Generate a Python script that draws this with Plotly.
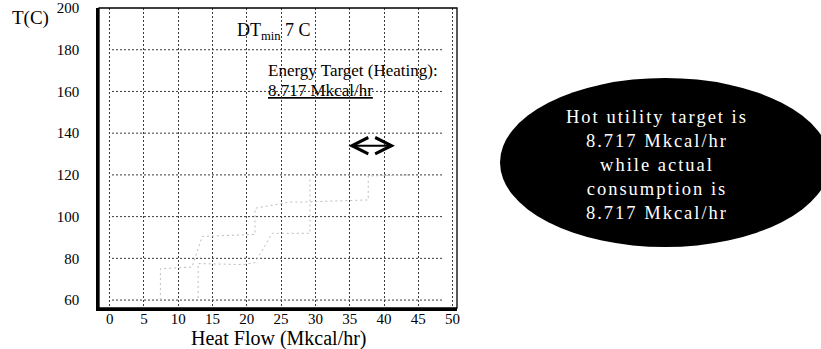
import plotly.graph_objects as go

# ---------------- data ----------------
x_ticks = [0, 5, 10, 15, 20, 25, 30, 35, 40, 45, 50]
y_ticks = [60, 80, 100, 120, 140, 160, 180, 200]
y_grid = [60, 80, 100, 120, 140, 160, 180]

# faint composite curves (heat flow Mkcal/hr, temperature C)
curveA_H = [7.4, 7.4, 12.0, 13.5, 17.5, 21.2, 21.2, 26.3, 28.2, 35.5, 37.7, 37.7, 43.8]
curveA_T = [60, 75, 75.8, 90.5, 91, 91.5, 104, 107, 107, 107.5, 108, 119.5, 120]
curveB_H = [12.9, 12.9, 19.5, 21.2, 23.7, 29.2, 29.2]
curveB_T = [61, 77.5, 77, 78, 92, 92, 119]

arrow_H = [34.6, 41.6]
arrow_T = 134

x_title = "Heat Flow (Mkcal/hr)"
y_title = "T(C)"
dtmin_label = "DT<sub>min</sub> 7 C"
target_label = "Energy Target (Heating):"
target_value = "8.717 Mkcal/hr"
bubble_lines = ["Hot utility target is", "8.717 Mkcal/hr", "while actual",
                "consumption is", "8.717 Mkcal/hr"]

# ---------------- layout geometry ----------------
W, H = 821, 349
L, R, T, B = 99, 457, 8, 308  # plot area in pixels
x_range = [-1.55, 50.64]
y_range = [56.2, 200]
grid_x0, grid_x1 = 0.35, 48.5

def px(xp):
    return (xp - L) / (R - L)

def py(yp):
    return (B - yp) / (B - T)

SERIF = "Liberation Serif, Times New Roman, serif"
GRID_DASH = "2px,2px"
GRID_COLOR = "#3a3a3a"

fig = go.Figure()
fig.add_trace(go.Scatter(x=curveA_H, y=curveA_T, mode="lines",
                         line=dict(color="#bdbdbd", width=1, dash="2px,3px"),
                         hoverinfo="skip", showlegend=False))
fig.add_trace(go.Scatter(x=curveB_H, y=curveB_T, mode="lines",
                         line=dict(color="#bdbdbd", width=1, dash="2px,3px"),
                         hoverinfo="skip", showlegend=False))

shapes = []
for g in y_grid:
    shapes.append(dict(type="line", xref="x", yref="y", x0=grid_x0, x1=grid_x1,
                       y0=g, y1=g, line=dict(color=GRID_COLOR, width=1, dash=GRID_DASH),
                       layer="below"))
# frame
shapes.append(dict(type="rect", xref="paper", yref="paper", x0=0, x1=1, y0=0, y1=1,
                   line=dict(color="black", width=1.3)))
# black ellipse
shapes.append(dict(type="circle", xref="paper", yref="paper",
                   x0=px(500), x1=px(830), y0=py(247), y1=py(78),
                   fillcolor="black", line=dict(color="black", width=0)))

annotations = [
    dict(x=px(30), y=py(18), xref="paper", yref="paper", text=y_title, showarrow=False,
         font=dict(family=SERIF, size=19, color="black"), xanchor="center", yanchor="middle"),
    dict(x=px(279), y=py(338), xref="paper", yref="paper", text=x_title, showarrow=False,
         font=dict(family=SERIF, size=20, color="black"), xanchor="center", yanchor="middle"),
    dict(x=px(235), y=py(32), xref="paper", yref="paper", text=dtmin_label, showarrow=False,
         font=dict(family=SERIF, size=18, color="black"), xanchor="left", yanchor="middle"),
    dict(x=px(266), y=py(71), xref="paper", yref="paper", text=target_label, showarrow=False,
         font=dict(family=SERIF, size=17, color="black"), xanchor="left", yanchor="middle"),
    dict(x=px(266), y=py(90), xref="paper", yref="paper", text=target_value, showarrow=False,
         font=dict(family=SERIF, size=17, color="black", lineposition="under"),
         xanchor="left", yanchor="middle"),
    dict(x=arrow_H[1], y=arrow_T, ax=arrow_H[0], ay=arrow_T, xref="x", yref="y",
         axref="x", ayref="y", text="", showarrow=True, arrowside="end+start",
         arrowhead=5, startarrowhead=5, arrowwidth=2, arrowsize=1.6, startarrowsize=1.6,
         arrowcolor="black", standoff=0, startstandoff=0),
    dict(x=px(657), y=py(165), xref="paper", yref="paper",
         text="<br>".join('<span style="letter-spacing:2px">%s</span>' % s for s in bubble_lines),
         showarrow=False, align="center",
         font=dict(family=SERIF, size=18.5, color="white"), xanchor="center", yanchor="middle"),
]

fig.update_layout(
    width=W, height=H,
    margin=dict(l=L, r=W - R, t=T, b=H - B),
    paper_bgcolor="white", plot_bgcolor="white",
    showlegend=False,
    shapes=shapes, annotations=annotations,
    xaxis=dict(range=x_range, tickvals=x_ticks, ticktext=[str(v) for v in x_ticks],
               automargin=False,
               showgrid=True, gridcolor=GRID_COLOR, griddash=GRID_DASH, gridwidth=1,
               zeroline=False, showline=True, linecolor="black", linewidth=2.5,
               ticks="", ticklabelstandoff=-5,
               tickfont=dict(family=SERIF, size=15, color="black")),
    yaxis=dict(range=y_range, tickvals=y_ticks, ticktext=[str(v) for v in y_ticks],
               automargin=False,
               showgrid=False, zeroline=False, showline=True, linecolor="black",
               linewidth=2.5, ticks="", ticklabelstandoff=14,
               tickfont=dict(family=SERIF, size=15, color="black")),
)

fig.write_html("out.html", config={"displayModeBar": False},
               post_script="document.body.style.margin='0px';document.body.style.overflow='hidden';")
